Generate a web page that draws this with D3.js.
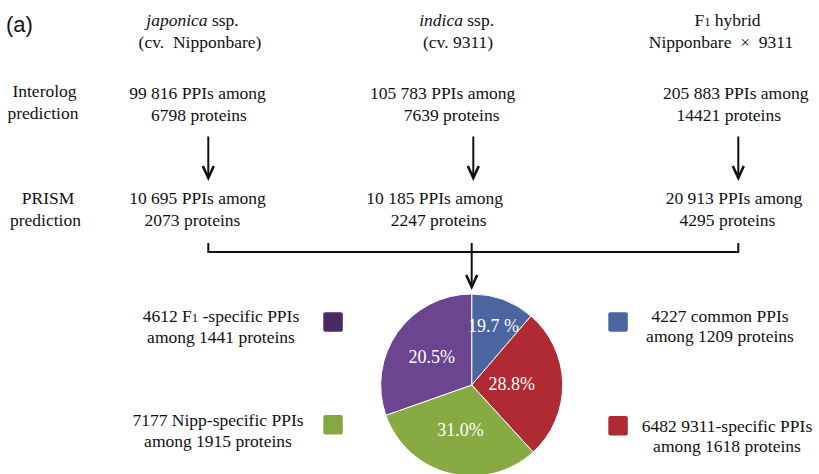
<!DOCTYPE html>
<html>
<head>
<meta charset="utf-8">
<script src="https://cdn.jsdelivr.net/npm/d3@7"></script>
<style>
  html, body { margin: 0; padding: 0; background: #fff; }
  svg { display: block; }
  text { font-family: "Liberation Serif", "Times New Roman", serif; fill: #111; white-space: pre; }
</style>
</head>
<body>
<svg id="chart" width="819" height="474"></svg>
<script>
// ---------------- data ----------------
const columns = ["japonica", "indica", "F1"];
const headerLine1 = ["{i:japonica} ssp.", "{i:indica} ssp.", "F{s:1} hybrid"];
const headerLine2 = ["(cv.  Nipponbare)", "(cv. 9311)", "Nipponbare  \u00D7  9311"];
const interologPPIs = ["99 816", "105 783", "205 883"];
const interologProteins = [6798, 7639, 14421];
const prismPPIs = ["10 695", "10 185", "20 913"];
const prismProteins = [2073, 2247, 4295];
const rowLabels = [["Interolog", "prediction"], ["PRISM", "prediction"]];

// pie (clockwise from top), slice shares as drawn in the picture
const groups = ["common", "9311-specific", "Nipp-specific", "F1-specific"];
const sliceShares = [11.3, 26.9, 31.4, 30.4];
const sliceLabels = ["19.7 %", "28.8%", "31.0%", "20.5%"];
const groupPPIs = [4227, 6482, 7177, 4612];
const groupProteins = [1209, 1618, 1915, 1441];
const legendLine1 = ["4227 common PPIs", "6482 9311-specific PPIs", "7177 Nipp-specific PPIs", "4612 F{s:1} -specific PPIs"];
const legendLine2 = ["among 1209 proteins", "among 1618 proteins", "among 1915 proteins", "among 1441 proteins"];

// ---------------- style / layout ----------------
const sliceColors = ["#4a65a0", "#b02a34", "#87aa42", "#6b4590"];
const legendColors = ["#4a65a0", "#b02a34", "#86a843", "#4a2a63"];
const FS = 17.5;

const svg = d3.select("#chart");
const x = d3.scalePoint().domain(columns).range([208.3, 738.3]);
const mid = 471.7;

// helper: rich text with {i:...} italic and {s:...} small segments
function richText(sel, str) {
  const re = /\{([is]):([^}]*)\}/g;
  let last = 0, m;
  const parts = [];
  while ((m = re.exec(str)) !== null) {
    if (m.index > last) parts.push({ t: str.slice(last, m.index) });
    parts.push({ t: m[2], k: m[1] });
    last = re.lastIndex;
  }
  if (last < str.length) parts.push({ t: str.slice(last) });
  parts.forEach(p => {
    const ts = sel.append("tspan").text(p.t);
    if (p.k === "i") ts.style("font-style", "italic");
    if (p.k === "s") ts.style("font-size", (FS * 0.72) + "px");
  });
}

function addText(str, cx, y, opts = {}) {
  const t = svg.append("text")
    .attr("x", cx).attr("y", y)
    .attr("text-anchor", opts.anchor || "middle")
    .style("font-size", (opts.size || FS) + "px");
  if (opts.fill) t.style("fill", opts.fill);
  if (opts.family) t.style("font-family", opts.family);
  richText(t, str);
  return t;
}

// panel label
addText("(a)", 6, 32, { anchor: "start", size: 22, family: "'Liberation Sans', Arial, sans-serif" });

// per-column text center offsets relative to arrow x (layout only)
const dx = {
  h1: [-15.8, -16.7, -10.8],
  h2: [-8.3, -15.2, -17.3],
  i1: [-10.8, -30.7, -2.5],
  i2: [-9.3, -21.7, -9.5],
  p1: [-10.8, -38.7, -4.3],
  p2: [-15.8, -34.7, -10.8]
};

columns.forEach((c, k) => {
  const cx = x(c);
  addText(headerLine1[k], cx + dx.h1[k], 25.5);
  addText(headerLine2[k], cx + dx.h2[k], 48);
  addText(`${interologPPIs[k]} PPIs among`, cx + dx.i1[k], 99);
  addText(`${interologProteins[k]} proteins`, cx + dx.i2[k], 120.5);
  addText(`${prismPPIs[k]} PPIs among`, cx + dx.p1[k], 204);
  addText(`${prismProteins[k]} proteins`, cx + dx.p2[k], 225.5);
});

// row labels
addText(rowLabels[0][0], 44.5, 97);
addText(rowLabels[0][1], 43, 119);
addText(rowLabels[1][0], 48, 203.5);
addText(rowLabels[1][1], 45.5, 225.5);

// arrows
function arrow(xx, y0, y1) {
  svg.append("line").attr("x1", xx).attr("x2", xx).attr("y1", y0).attr("y2", y1 - 1.5)
    .attr("stroke", "#111").attr("stroke-width", 2);
  svg.append("path")
    .attr("d", `M${xx - 5.5},${y1 - 13}L${xx},${y1 - 1}L${xx + 5.5},${y1 - 13}`)
    .attr("fill", "none").attr("stroke", "#111").attr("stroke-width", 2.6)
    .attr("stroke-linejoin", "miter");
}
columns.forEach(c => arrow(x(c), 136.5, 179));

// connector
const yTop = 243, yBar = 252;
svg.append("path")
  .attr("d", `M${x(columns[0])},${yTop}V${yBar}H${x(columns[2])}V${yTop}`)
  .attr("fill", "none").attr("stroke", "#111").attr("stroke-width", 2);
arrow(mid, yTop, 288);

// pie
const R = 91, cy = 385;
const pie = d3.pie().sort(null).value(d => d)(sliceShares);
const arc = d3.arc().innerRadius(0).outerRadius(R);
const g = svg.append("g").attr("transform", `translate(${mid},${cy})`);
g.selectAll("path.slice").data(pie).join("path")
  .attr("class", "slice")
  .attr("d", arc)
  .attr("fill", (d, i) => sliceColors[i])
  .attr("stroke", "#fff").attr("stroke-width", 1);

const labelR = [63, 40, 46, 49];
g.selectAll("text.pl").data(pie).join("text")
  .attr("class", "pl")
  .attr("transform", (d, i) => {
    const c = d3.arc().innerRadius(labelR[i]).outerRadius(labelR[i]).centroid(d);
    return `translate(${c[0]},${c[1] + 6})`;
  })
  .attr("text-anchor", "middle")
  .style("font-size", "18px")
  .style("fill", "#fff")
  .text((d, i) => sliceLabels[i]);

// legend
const legendPos = [
  { sx: 608.3, sy: 312.3, tx: 720, y1: 321.7, y2: 342 },
  { sx: 608.3, sy: 416, tx: 727, y1: 431.7, y2: 452 },
  { sx: 323.3, sy: 415, tx: 218, y1: 425.5, y2: 446.7 },
  { sx: 323.3, sy: 312.3, tx: 221, y1: 321.7, y2: 342.7 }
];
groups.forEach((gname, i) => {
  const p = legendPos[i];
  svg.append("rect").attr("x", p.sx).attr("y", p.sy).attr("width", 19.5).attr("height", 19.5)
    .attr("rx", 2).attr("fill", legendColors[i]);
  addText(legendLine1[i], p.tx, p.y1);
  addText(legendLine2[i], p.tx, p.y2);
});
</script>
</body>
</html>
